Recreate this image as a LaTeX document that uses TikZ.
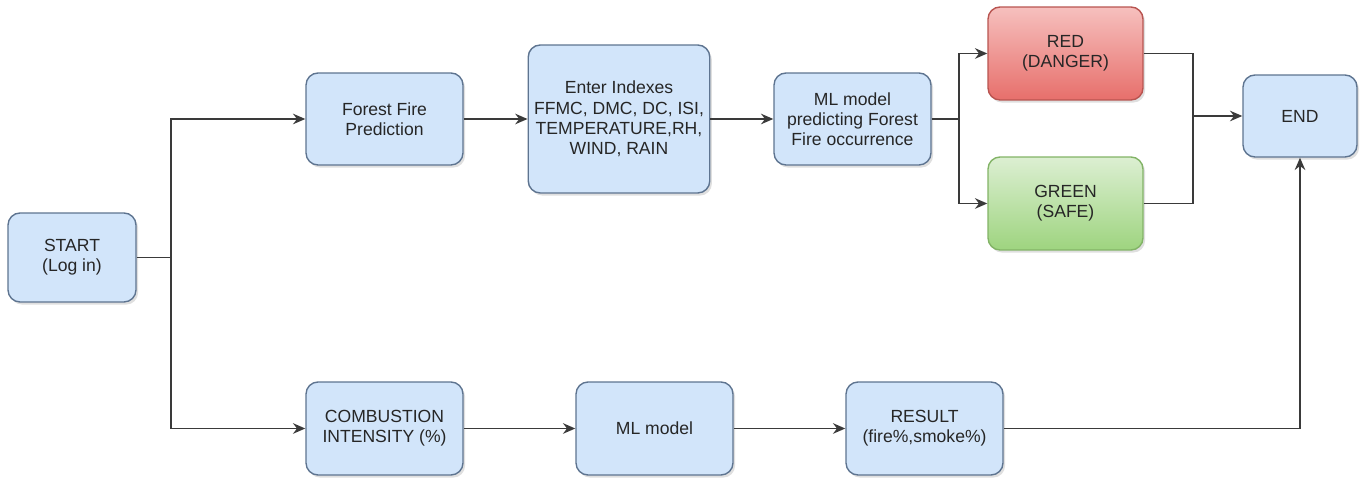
\documentclass[tikz,border=0pt]{standalone}
\usepackage{fontspec}
\setmainfont{Liberation Sans}
\usepackage{xcolor}
\usepackage{tikz}
\usetikzlibrary{arrows.meta}
\usetikzlibrary{shadows}

\definecolor{boxblue}{HTML}{D2E5FA}
\definecolor{boxblueline}{HTML}{5E7490}
\definecolor{redtop}{HTML}{F6C0BE}
\definecolor{redbot}{HTML}{E76F6B}
\definecolor{redline}{HTML}{B85450}
\definecolor{greentop}{HTML}{DCEFD2}
\definecolor{greenbot}{HTML}{9ED47F}
\definecolor{greenline}{HTML}{82B366}
\definecolor{wire}{HTML}{3A3A3A}

\begin{document}
\begin{tikzpicture}[
	x=0.02cm, y=-0.02cm,
	box/.style={draw=boxblueline, fill=boxblue, line width=0.8pt, rounded corners=0.24cm,
		align=center, font=\fontsize{10}{11.5}\selectfont, text=black!85,
		drop shadow={shadow xshift=1.2pt, shadow yshift=-1.5pt, opacity=0.25}},
	redbox/.style={box, draw=redline, top color=redtop, bottom color=redbot},
	greenbox/.style={box, draw=greenline, top color=greentop, bottom color=greenbot},
	wireline/.style={draw=wire, line width=1pt},
	arr/.style={wireline, -{Stealth[length=7pt, width=6pt]}}
	]

	\useasboundingbox (0,0) rectangle (1366,482);

	\def\rowT{119} % upper row
	\def\rowB{428.5} % lower row

	% start
	\node[box, minimum width=2.56cm, minimum height=1.78cm] (start) at (72,257.5) {START\\(Log in)};

	% upper row
	\node[box, minimum width=3.14cm, minimum height=1.84cm] (ffp) at (384.5,\rowT) {Forest Fire\\Prediction};
	\node[box, minimum width=3.44cm, minimum height=2.96cm] (idx) at (619,\rowT) {Enter Indexes\\FFMC, DMC, DC, ISI,\\TEMPERATURE,RH,\\WIND, RAIN};
	\node[box, minimum width=3.14cm, minimum height=1.84cm] (mlp) at (852.5,\rowT) {ML model\\predicting Forest\\Fire occurrence};
	\node[redbox, minimum width=3.1cm, minimum height=1.86cm] (red) at (1065.5,53.5) {RED\\(DANGER)};
	\node[greenbox, minimum width=3.1cm, minimum height=1.86cm] (green) at (1065.5,203.5) {GREEN\\(SAFE)};
	\node[box, minimum width=2.28cm, minimum height=1.64cm] (end) at (1300,116) {END};

	% lower row
	\node[box, minimum width=3.14cm, minimum height=1.86cm] (comb) at (384.5,\rowB) {COMBUSTION\\INTENSITY (\%)};
	\node[box, minimum width=3.14cm, minimum height=1.86cm] (ml) at (654.5,\rowB) {ML model};
	\node[box, minimum width=3.14cm, minimum height=1.86cm] (res) at (924.5,\rowB) {RESULT\\(fire\%,smoke\%)};

	% junctions
	\coordinate (split) at (171,257.5);
	\coordinate (branch) at (959,\rowT);
	\coordinate (merge) at (1193,116);

	% connectors
	\draw[wireline] (start.east) -- (split);
	\draw[arr] (split) |- (ffp.west);
	\draw[arr] (split) |- (comb.west);
	\draw[arr] (ffp) -- (idx);
	\draw[arr] (idx) -- (mlp);
	\draw[wireline] (mlp) -- (branch);
	\draw[arr] (branch) |- (red.west);
	\draw[arr] (branch) |- (green.west);
	\draw[wireline] (red.east) -| (merge);
	\draw[wireline] (green.east) -| (merge);
	\draw[arr] (merge) -- (end.west);
	\draw[arr] (comb) -- (ml);
	\draw[arr] (ml) -- (res);
	\draw[arr] (res.east) -| (end.south);

\end{tikzpicture}
\end{document}
